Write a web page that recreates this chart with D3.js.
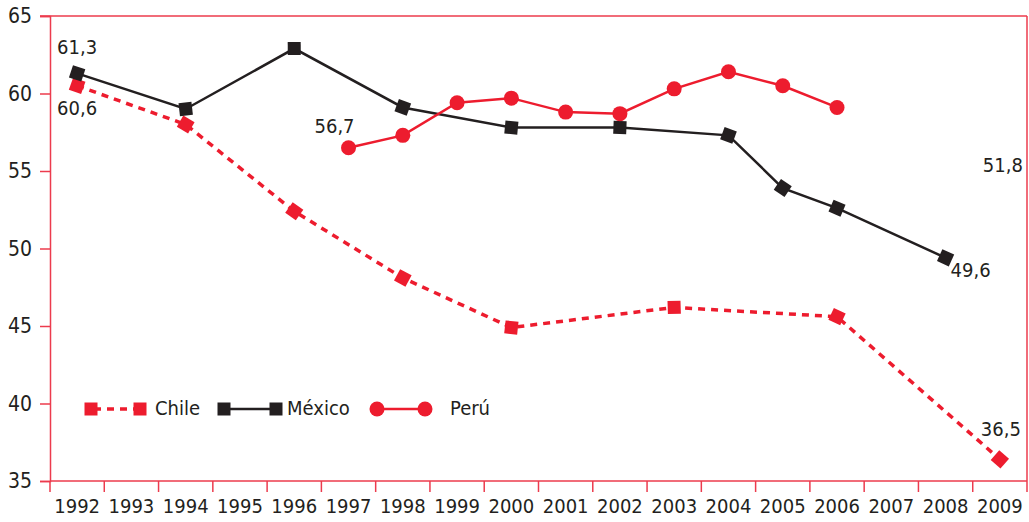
<!DOCTYPE html>
<html>
<head>
<meta charset="utf-8">
<script src="https://cdn.jsdelivr.net/npm/d3@7"></script>
<style>
  body { margin: 0; background: #fff; }
  text { font-family: "Liberation Sans Narrow", "DejaVu Sans Condensed", sans-serif; fill: #231f20; }
</style>
</head>
<body>
<svg width="1029" height="522"></svg>
<script>
const width = 1029;
const height = 522;

const years = ["1992","1993","1994","1995","1996","1997","1998","1999","2000",
               "2001","2002","2003","2004","2005","2006","2007","2008","2009"];
const yTicks = [35, 40, 45, 50, 55, 60, 65];

// null = no observation that year
const chile  = [60.5, null, 58.0, null, 52.4, null, 48.1, null, 44.9, null, null, 46.2, null, null, 45.6, null, null, 36.4];
const mexico = [61.3, null, 59.0, null, 62.9, null, 59.1, null, 57.8, null, 57.8, null, 57.3, 53.9, 52.6, null, 49.4, null];
const peru   = [null, null, null, null, null, 56.5, 57.3, 59.4, 59.7, 58.8, 58.7, 60.3, 61.4, 60.5, 59.1, null, null, null];

const labels = [
  {text: "61,3", year: "1992", value: 61.3, dx: 0, dy: -25},
  {text: "60,6", year: "1992", value: 60.5, dx: 0, dy: 24},
  {text: "56,7", year: "1997", value: 56.5, dx: -14, dy: -20},
  {text: "51,8", year: "2009", value: 55.3, dx: 3, dy: 0},
  {text: "49,6", year: "2008", value: 49.4, dx: 25, dy: 14},
  {text: "36,5", year: "2009", value: 36.4, dx: 1, dy: -29}
];

const red = "#ed1c2e";
const black = "#231f20";
const axisRed = "#ec3b4d";

const plotLeft = 50, plotRight = 1027, plotTop = 16, plotBottom = 481;

let x = d3.scaleBand().domain(years).range([plotLeft, plotRight]);
let y = d3.scaleLinear().domain([35, 65]).range([plotBottom, plotTop]);

let svg = d3.select("svg");

// frame: top and right edges
svg.append("line")
    .attr("x1", plotLeft - 10).attr("x2", plotRight)
    .attr("y1", plotTop).attr("y2", plotTop)
    .attr("stroke", axisRed).attr("stroke-width", 1.5);
svg.append("line")
    .attr("x1", plotRight).attr("x2", plotRight)
    .attr("y1", plotTop).attr("y2", plotBottom + 11)
    .attr("stroke", axisRed).attr("stroke-width", 1.5);

// y axis
let yAxis = d3.axisLeft(y).tickValues(yTicks).tickSize(10).tickPadding(8).tickFormat(d3.format("d"));
let gy = svg.append("g").attr("transform", `translate(${plotLeft},0)`).call(yAxis);
gy.select(".domain").attr("stroke", axisRed).attr("stroke-width", 1.5);
gy.selectAll(".tick line").attr("stroke", axisRed).attr("stroke-width", 1.5);
gy.selectAll(".tick text").style("font-size", "21px").attr("fill", black)
    .style("font-family", '"Liberation Sans Narrow", "DejaVu Sans Condensed", sans-serif');

// x axis
let xAxis = d3.axisBottom(x).tickSize(0).tickPadding(18);
let gx = svg.append("g").attr("transform", `translate(0,${plotBottom})`).call(xAxis);
gx.select(".domain").remove();
gx.selectAll(".tick text").style("font-size", "20px").attr("fill", black)
    .style("font-family", '"Liberation Sans Narrow", "DejaVu Sans Condensed", sans-serif');
svg.append("line")
    .attr("x1", plotLeft).attr("x2", plotRight)
    .attr("y1", plotBottom).attr("y2", plotBottom)
    .attr("stroke", axisRed).attr("stroke-width", 1.5);
svg.selectAll(".xsep")
    .data(years)
    .enter()
    .append("line")
        .attr("class", "xsep")
        .attr("x1", d => x(d)).attr("x2", d => x(d))
        .attr("y1", plotBottom).attr("y2", plotBottom + 11)
        .attr("stroke", axisRed).attr("stroke-width", 1.5);

function points(vals) {
  return years.map((yr, i) => ({year: yr, value: vals[i]})).filter(d => d.value !== null);
}

let line = d3.line()
    .x(d => x(d.year) + x.bandwidth() / 2)
    .y(d => y(d.value));

function angles(pts) {
  return pts.map((d, i) => {
    let a = pts[Math.max(i - 1, 0)], b = pts[Math.min(i + 1, pts.length - 1)];
    let dx = (x(b.year) - x(a.year)), dy = (y(b.value) - y(a.value));
    return Math.atan2(dy, dx) * 180 / Math.PI;
  });
}

function drawSquareSeries(vals, color, dash, strokeW) {
  let pts = points(vals);
  let ang = angles(pts);
  svg.append("path")
      .datum(pts)
      .attr("d", line)
      .attr("fill", "none")
      .attr("stroke", color)
      .attr("stroke-width", strokeW)
      .attr("stroke-dasharray", dash);
  svg.selectAll(null)
      .data(pts)
      .enter()
      .append("rect")
          .attr("x", -6.5).attr("y", -6.5)
          .attr("width", 13).attr("height", 13)
          .attr("fill", color)
          .attr("transform", (d, i) => `translate(${x(d.year) + x.bandwidth() / 2},${y(d.value)}) rotate(${ang[i]})`);
}

drawSquareSeries(chile, red, "7,6", 3.5);
drawSquareSeries(mexico, black, null, 2.5);

let peruPts = points(peru);
svg.append("path")
    .datum(peruPts)
    .attr("d", line)
    .attr("fill", "none")
    .attr("stroke", red)
    .attr("stroke-width", 2.5);
svg.selectAll(null)
    .data(peruPts)
    .enter()
    .append("circle")
        .attr("cx", d => x(d.year) + x.bandwidth() / 2)
        .attr("cy", d => y(d.value))
        .attr("r", 7.5)
        .attr("fill", red);

// value labels
svg.selectAll(".vlab")
    .data(labels)
    .enter()
    .append("text")
        .attr("class", "vlab")
        .attr("x", d => x(d.year) + x.bandwidth() / 2 + d.dx)
        .attr("y", d => y(d.value) + d.dy)
        .attr("text-anchor", "middle")
        .attr("dominant-baseline", "middle")
        .style("font-size", "20px")
        .text(d => d.text);

// legend
let legend = svg.append("g").attr("transform", "translate(0,409)");
legend.append("line").attr("x1", 91).attr("x2", 140).attr("y1", 0).attr("y2", 0)
    .attr("stroke", red).attr("stroke-width", 3.5).attr("stroke-dasharray", "7,6").attr("stroke-dashoffset", -3);
legend.selectAll(null).data([91, 140]).enter().append("rect")
    .attr("x", d => d - 6.5).attr("y", -6.5).attr("width", 13).attr("height", 13).attr("fill", red);
legend.append("text").attr("x", 155).attr("y", 0).attr("dominant-baseline", "middle")
    .style("font-size", "20px").text("Chile");

legend.append("line").attr("x1", 224).attr("x2", 276).attr("y1", 0).attr("y2", 0)
    .attr("stroke", black).attr("stroke-width", 2.5);
legend.selectAll(null).data([224, 276]).enter().append("rect")
    .attr("x", d => d - 6.5).attr("y", -6.5).attr("width", 13).attr("height", 13).attr("fill", black);
legend.append("text").attr("x", 287).attr("y", 0).attr("dominant-baseline", "middle")
    .style("font-size", "20px").text("México");

legend.append("line").attr("x1", 377).attr("x2", 425).attr("y1", 0).attr("y2", 0)
    .attr("stroke", red).attr("stroke-width", 2.5);
legend.selectAll(null).data([377, 425]).enter().append("circle")
    .attr("cx", d => d).attr("cy", 0).attr("r", 7.5).attr("fill", red);
legend.append("text").attr("x", 450).attr("y", 0).attr("dominant-baseline", "middle")
    .style("font-size", "20px").text("Perú");
</script>
</body>
</html>
